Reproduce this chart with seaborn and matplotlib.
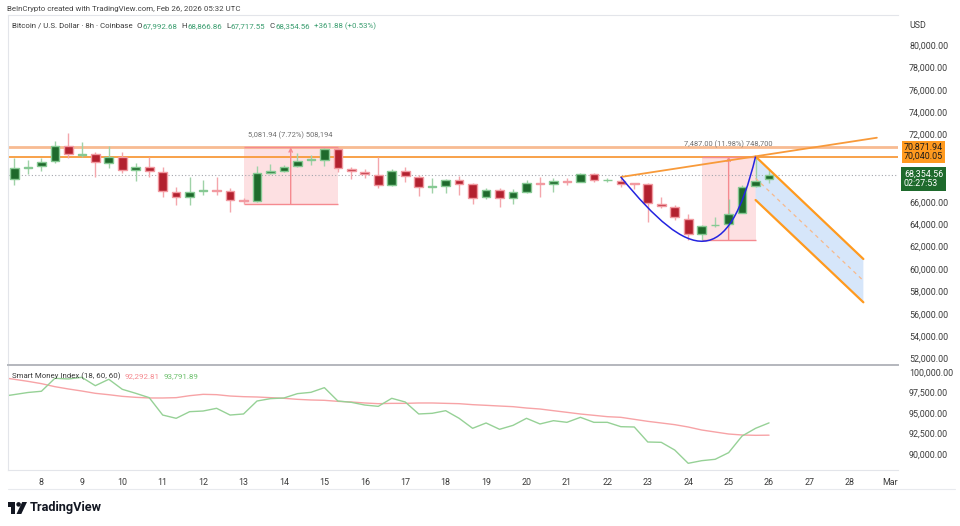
import numpy as np
import pandas as pd
import matplotlib
matplotlib.use("Agg")
import matplotlib.pyplot as plt
import matplotlib.transforms as mtransforms
from matplotlib.patches import Rectangle, Polygon, Circle, PathPatch
from matplotlib.path import Path
import seaborn as sns

sns.set_theme(style="white")
plt.rcParams["font.family"] = ["Roboto", "DejaVu Sans"]

# ---------------------------------------------------------------
# data (BTC/USD 8h, Coinbase)
# ---------------------------------------------------------------
opens = [67990, 69050, 69200, 69600, 71000, 70220, 70240, 69490, 70000, 68840,
         69130, 68690, 66900, 66450, 66990, 67060, 66960, 66130, 66070, 68540,
         68750, 69170, 69740, 69730, 70690, 68950, 68690, 68420, 67500, 68750,
         68240, 67330, 67440, 67945, 67560, 66400, 67050, 66310, 66900, 67700,
         67560, 67880, 67790, 68480, 67930, 67880, 67650, 67560, 65830, 65510,
         64490, 63120, 63900, 64010, 65030, 67410, 67992.68]
highs = [69880, 69730, 69880, 71430, 72170, 71310, 70470, 70980, 70420, 69440,
         69970, 69130, 67350, 68240, 67945, 68240, 67200, 66360, 69220, 69370,
         69280, 70360, 70180, 70800, 70871.94, 69130, 68900, 69970, 68900, 69130,
         68390, 68100, 68030, 68300, 67700, 67200, 67200, 67110, 67945, 68240,
         68100, 68100, 68540, 68540, 68150, 68100, 67700, 67650, 66450, 65710,
         64910, 63930, 64600, 66220, 67500, 70040.05, 68866.86]
lows = [67500, 68470, 68780, 69430, 69880, 69970, 68240, 69040, 68600, 67860,
        68240, 66450, 65710, 65710, 66600, 66600, 65060, 65790, 65950, 68450,
        68690, 69080, 69280, 69200, 68690, 68000, 68090, 67260, 67440, 67800,
        66550, 66820, 66820, 66600, 65770, 66250, 65560, 65800, 66820, 66400,
        66900, 67500, 67740, 67790, 67740, 67350, 67100, 64220, 65420, 64370,
        62590, 62553.05, 63720, 63720, 64970, 67350, 67717.55]
closes = [68990, 69150, 69550, 71000, 70270, 70260, 69525, 70000, 68840, 69130,
          68780, 66960, 66450, 66900, 67060, 67000, 66180, 66070, 68540, 68720,
          69080, 69640, 69790, 70690, 69040, 68750, 68480, 67500, 68750, 68330,
          67350, 67380, 67945, 67610, 66360, 67050, 66310, 66850, 67700, 67560,
          67880, 67770, 68480, 67945, 67960, 67590, 67600, 65920, 65600, 64620,
          63120, 63840, 63950, 64910, 67300, 67880, 68354.56]

# Smart Money Index (18, 60, 60), first point is one bar before the window
smi_index = list(range(-1, 57))
smi_fast = [97000, 97250, 97500, 97650, 99230, 99150, 99350, 98330, 99110, 97890,
            97400, 96870, 94750, 94350, 95160, 95240, 95570, 94750, 94880, 96460,
            96750, 96830, 97360, 97520, 98090, 96460, 96300, 95970, 95810, 96790,
            96340, 94880, 94960, 95280, 94350, 93130, 93780, 93010, 93490, 94350,
            93660, 94060, 93860, 94470, 93860, 93860, 93330, 93290, 91460, 91420,
            90480, 88860, 89180, 89350, 90160, 92190, 93130, 93791.89]
smi_slow = [99350, 99105, 98860, 98580, 98210, 97930, 97680, 97400, 97230, 97030,
            96910, 96830, 96830, 96870, 97110, 97275, 97235, 97070, 96990, 96950,
            96870, 96790, 96665, 96585, 96545, 96420, 96340, 96220, 96135, 96175,
            96175, 96220, 96220, 96175, 96135, 96015, 95935, 95850, 95770, 95605,
            95485, 95280, 95080, 94875, 94715, 94550, 94470, 94225, 93980, 93780,
            93575, 93290, 92925, 92680, 92435, 92315, 92275, 92292.81]

day_labels = ["8", "9", "10", "11", "12", "13", "14", "15", "16", "17", "18",
              "19", "20", "21", "22", "23", "24", "25", "26", "27", "28", "Mar"]
day_pos = [2 + 3 * k for k in range(len(day_labels))]

price_ticks = list(range(52000, 80001, 2000))
hidden_ticks = [68000, 70000]   # covered by the price-scale labels
smi_ticks = [90000, 92500, 95000, 97500, 100000]

level_hi = 70871.94
level_lo = 70040.05
last_price = 68354.56
countdown = "02:27:53"

# price range tools: (bar from, bar to, low, high, label)
ranges = [(17, 24, 65790.00, 70871.94, "5,081.94 (7.72%) 508,194"),
          (51, 55, 62553.05, 70040.05, "7,487.00 (11.98%) 748,700")]

trend_x = [45, 64]
trend_y = [68213, 71720]
arc_x = [45, 50.15, 52.96, 55]
arc_y = [68213, 60622, 59908, 70040.05]
chan_x = [55, 63]
chan_up = [70040.05, 60890]
chan_lo = [66159, 57023]

UP_BODY, UP_EDGE, UP_WICK = "#1e6a2c", "#86c993", "#9fd2a8"
DN_BODY, DN_EDGE, DN_WICK = "#b3212f", "#f29aa1", "#f4a6ac"
TXT = "#3b3b3b"
ORANGE = "#f89a3a"
FS = 5.65

W, H = 960, 526
fig = plt.figure(figsize=(W / 100, H / 100), dpi=100)
fig.patch.set_facecolor("white")


def fx(px):
    return px / W


def fy(py):
    return 1 - py / H


# ---------------------------------------------------------------
# main price pane
# ---------------------------------------------------------------
ax = fig.add_axes([fx(8), fy(365), 890 / W, 350 / H])
ax.set_xlim(-0.48, 65.57)
ax.set_ylim(51424, 82680)
ax.set_facecolor("white")

df = pd.DataFrame({"o": opens, "h": highs, "l": lows, "c": closes})
df["i"] = np.arange(len(df))
up = df["c"] >= df["o"]

for mask, body, edge, wick in [(up, UP_BODY, UP_EDGE, UP_WICK),
                               (~up, DN_BODY, DN_EDGE, DN_WICK)]:
    d = df[mask]
    ax.vlines(d["i"], d["l"], d["h"], color=wick, lw=1, zorder=3)
    hgt = np.maximum((d["c"] - d["o"]).abs(), 45)
    ax.bar(d["i"], hgt, bottom=np.minimum(d["o"], d["c"]), width=0.64,
           color=body, edgecolor=edge, linewidth=1, zorder=4)

# horizontal levels
ax.axhline(level_hi, color="#f8bb92", lw=2, zorder=2)
ax.axhline(level_lo, color=ORANGE, lw=1.3, zorder=2)
ax.axhline(last_price, color="#a3a6ad", lw=0.8, ls=(0, (1, 2)), zorder=2)

# price range boxes
for x0, x1, lo, hi, lab in ranges:
    ax.add_patch(Rectangle((x0, lo), x1 - x0, hi - lo, fc="#fde0e2", ec="none", zorder=1))
    ax.hlines([lo, hi], x0, x1, color="#f58a90", lw=1, zorder=2)
    cx = (x0 + x1) / 2
    ax.annotate("", xy=(cx, hi), xytext=(cx, lo),
                arrowprops=dict(arrowstyle="->", color="#f58a90", lw=1,
                                shrinkA=0, shrinkB=0, mutation_scale=6), zorder=2)
    ax.annotate(lab, xy=(cx, hi), xytext=(0, 12), textcoords="offset pixels",
                ha="center", va="center", fontsize=5.4, color="#707070")

# descending channel
ax.add_patch(Polygon([(chan_x[0], chan_up[0]), (chan_x[1], chan_up[1]),
                      (chan_x[1], chan_lo[1]), (chan_x[0], chan_lo[0])],
                     closed=True, fc="#d6e6fa", ec="none", zorder=1))
ax.plot(chan_x, chan_up, color="#ff9a1f", lw=1.6, zorder=5)
ax.plot(chan_x, chan_lo, color="#ff9a1f", lw=1.6, zorder=5)
ax.plot(chan_x, [(a + b) / 2 for a, b in zip(chan_up, chan_lo)],
        color="#f7b98c", lw=0.9, ls=(0, (3, 3)), zorder=5)

# rising trend line and cup arc
ax.plot(trend_x, trend_y, color=ORANGE, lw=1.3, zorder=5)
arc = Path(list(zip(arc_x, arc_y)),
           [Path.MOVETO, Path.CURVE4, Path.CURVE4, Path.CURVE4])
ax.add_patch(PathPatch(arc, fill=False, ec="#2424e0", lw=1.1, zorder=5))

ax.set_xticks([])
ax.yaxis.tick_right()
ax.set_yticks(price_ticks)
ax.set_yticklabels(["" if v in hidden_ticks else f"{v:,.2f}" for v in price_ticks])
ax.tick_params(axis="y", length=0, pad=8, labelsize=6.4, labelcolor=TXT)
for s in ["top", "left"]:
    ax.spines[s].set_color("#e3e5ea")
    ax.spines[s].set_linewidth(0.8)
ax.spines["right"].set_visible(False)
ax.spines["bottom"].set_color("#b4b7bd")
ax.spines["bottom"].set_linewidth(1.4)

# price scale labels
blend = mtransforms.blended_transform_factory(ax.transAxes, ax.transData)
lx = (904 - 8) / 890
ax.text(lx, level_hi, f"{level_hi:,.2f}", transform=blend, ha="left", va="center",
        fontsize=6.4, color="#1a1a1a", clip_on=False, zorder=10,
        bbox=dict(boxstyle="square,pad=0.22", fc="#ff9a1f", ec="none"))
ax.text(lx, level_lo, f"{level_lo:,.2f}", transform=blend, ha="left", va="center",
        fontsize=6.4, color="#1a1a1a", clip_on=False, zorder=11,
        bbox=dict(boxstyle="square,pad=0.22", fc="#ff9a1f", ec="none"))
ax.annotate(f"{last_price:,.2f}\n{countdown}", xy=(lx, last_price), xycoords=blend,
            xytext=(0, 6), textcoords="offset pixels", ha="left", va="top",
            fontsize=6.4, color="white", linespacing=1.15, annotation_clip=False,
            zorder=12, bbox=dict(boxstyle="square,pad=0.3", fc="#1e6a2c", ec="none"))

# ---------------------------------------------------------------
# Smart Money Index pane
# ---------------------------------------------------------------
ax2 = fig.add_axes([fx(8), fy(470), 890 / W, 104 / H])
ax2.set_xlim(-0.48, 65.57)
ax2.set_ylim(88044, 100732)
smi = pd.DataFrame({"i": smi_index, "fast": smi_fast, "slow": smi_slow})
sns.lineplot(data=smi, x="i", y="slow", ax=ax2, color="#f7a3a6", lw=1)
sns.lineplot(data=smi, x="i", y="fast", ax=ax2, color="#96d196", lw=1)
ax2.set_xlabel("")
ax2.set_ylabel("")
ax2.yaxis.tick_right()
ax2.set_yticks(smi_ticks)
ax2.set_yticklabels([f"{v:,.2f}" for v in smi_ticks])
ax2.set_xticks(day_pos)
ax2.set_xticklabels(day_labels)
ax2.tick_params(axis="y", length=0, pad=8, labelsize=6.4, labelcolor=TXT)
ax2.tick_params(axis="x", length=0, pad=6, labelsize=6.4, labelcolor=TXT)
for s in ["top", "right"]:
    ax2.spines[s].set_visible(False)
for s in ["left", "bottom"]:
    ax2.spines[s].set_color("#e3e5ea")
    ax2.spines[s].set_linewidth(0.8)

fig.add_artist(plt.Line2D([fx(8), fx(955)], [fy(489), fy(489)], color="#e8eaee", lw=0.8))

# ---------------------------------------------------------------
# header texts
# ---------------------------------------------------------------
renderer = fig.canvas.get_renderer()


def put_runs(x, y, runs, size):
    for s, c, gap in runs:
        t = fig.text(fx(x), fy(y), s, color=c, fontsize=size, ha="left", va="center")
        x += t.get_window_extent(renderer=renderer).width + gap


GREEN_TXT = "#3a9d6f"
fig.text(fx(7), fy(9), "BeInCrypto created with TradingView.com, Feb 26, 2026 05:32 UTC",
         fontsize=FS, color="#444444", ha="left", va="center")
put_runs(12, 26, [("Bitcoin / U.S. Dollar · 8h · Coinbase", TXT, 4),
                  ("O", TXT, 0.5), ("67,992.68", GREEN_TXT, 4),
                  ("H", TXT, 0.5), ("68,866.86", GREEN_TXT, 4),
                  ("L", TXT, 0.5), ("67,717.55", GREEN_TXT, 4),
                  ("C", TXT, 0.5), ("68,354.56", GREEN_TXT, 4),
                  ("+361.88 (+0.53%)", GREEN_TXT, 0)], FS)
fig.text(fx(909), fy(26), "USD", fontsize=6.4, color=TXT, ha="left", va="center")
put_runs(12, 376, [("Smart Money Index (18, 60, 60)", TXT, 4),
                   ("92,292.81", "#f58a90", 4),
                   ("93,791.89", "#6cbf6c", 0)], FS)

# TradingView logo
lax = fig.add_axes([fx(8), fy(514), 19 / W, 12 / H])
lax.set_xlim(0, 19)
lax.set_ylim(0, 12)
lax.axis("off")
lax.add_patch(Rectangle((0, 7.5), 7.5, 4.5, fc="#131722", ec="none"))
lax.add_patch(Rectangle((3.2, 0), 4.3, 12, fc="#131722", ec="none"))
lax.add_patch(Circle((10.6, 9.6), 2.3, fc="#131722", ec="none"))
lax.add_patch(Polygon([(8.5, 0), (13.3, 0), (19, 12), (14.2, 12)], fc="#131722", ec="none"))
fig.text(fx(30), fy(507), "TradingView", fontsize=9.2, fontweight="bold",
         color="#131722", ha="left", va="center")

fig.savefig("out.png", dpi=100, facecolor="white")
